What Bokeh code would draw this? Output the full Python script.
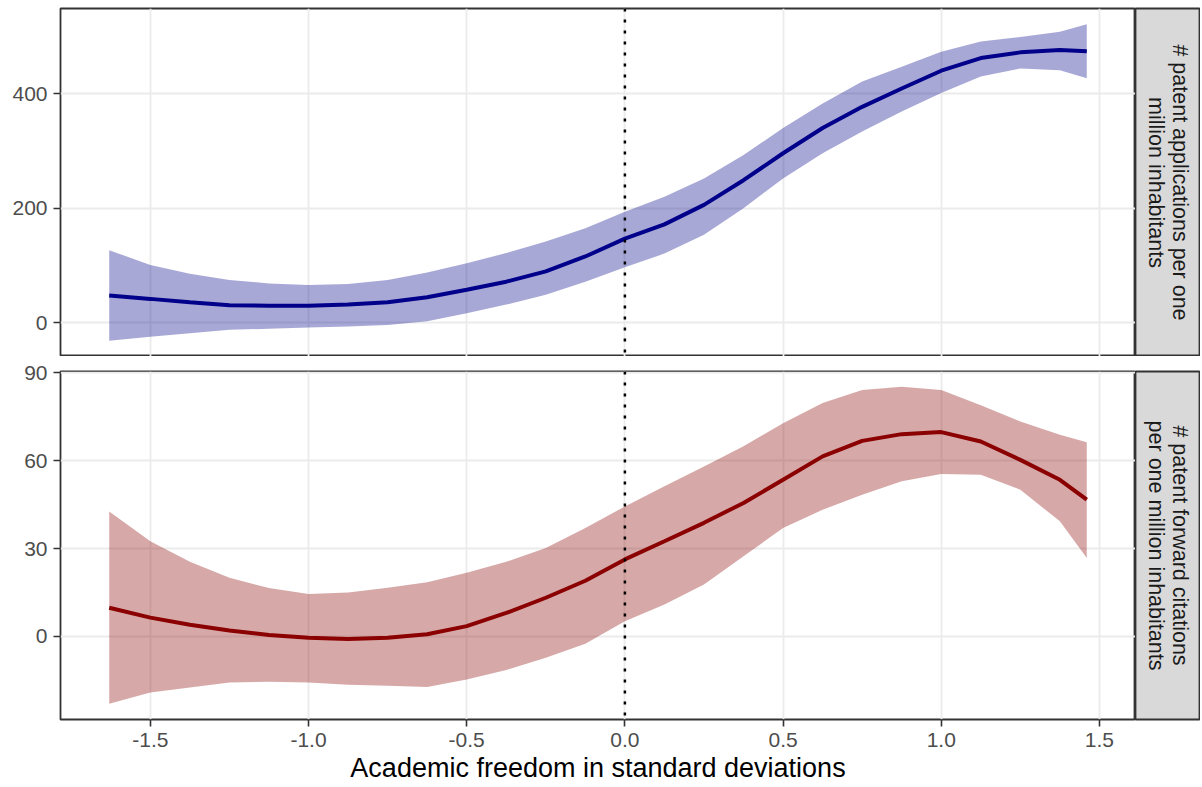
from bokeh.plotting import figure
from bokeh.models import Range1d, FixedTicker, Span, Label, Grid
from bokeh.layouts import gridplot
from bokeh.embed import file_html
from bokeh.resources import INLINE

# ---- data ----
x = [-1.63, -1.5, -1.375, -1.25, -1.125, -1.0, -0.875, -0.75, -0.625, -0.5, -0.375, -0.25, -0.125,
     0.0, 0.125, 0.25, 0.375, 0.5, 0.625, 0.75, 0.875, 1.0, 1.125, 1.25, 1.375, 1.46]

apps_fit = [48, 42, 36, 31, 30, 30, 32, 36, 45, 58, 72, 90, 116, 147, 172, 206, 249, 296, 340, 377, 409, 440, 462, 472, 476, 474]
apps_hi = [127, 101, 86, 75, 69, 66, 68, 75, 88, 104, 122, 142, 165, 194, 220, 252, 293, 340, 383, 421, 447, 473, 491, 499, 508, 521]
apps_lo = [-31, -24, -18, -12, -10, -8, -6, -3.5, 3, 17, 32, 49, 72, 97, 121, 154, 200, 252, 296, 334, 369, 401, 430, 444, 441, 427]

cit_fit = [9.8, 6.4, 4, 2, 0.5, -0.5, -0.9, -0.5, 0.7, 3.5, 8, 13.2, 19, 26.3, 32.5, 38.8, 45.6, 53.5, 61.5, 66.8, 69.1, 69.8, 66.6, 60.3, 53.5, 46.7]
cit_hi = [42.7, 32.5, 25.5, 20, 16.5, 14.5, 15, 16.6, 18.5, 21.7, 25.5, 30.2, 37, 44.4, 51.3, 58, 65, 72.8, 79.7, 84.2, 85.3, 84.2, 79, 73.4, 68.9, 66.3]
cit_lo = [-23, -19.2, -17.5, -15.8, -15.5, -15.8, -16.5, -16.9, -17.3, -14.7, -11.5, -7.3, -2.5, 5.2, 10.9, 17.7, 27.4, 37, 43.3, 48.4, 53, 55.5, 55.2, 50.1, 39.3, 26.8]

x_ticks = [-1.5, -1.0, -0.5, 0.0, 0.5, 1.0, 1.5]
x_tick_labels = ["-1.5", "-1.0", "-0.5", "0.0", "0.5", "1.0", "1.5"]
apps_ticks = [0, 200, 400]
cit_ticks = [0, 30, 60, 90]

strip_top = ["# patent applications per one", "million inhabitants"]
strip_bot = ["# patent forward citations", "per one million inhabitants"]
x_title = "Academic freedom in standard deviations"

FONT = "Liberation Sans"
BORDER = "#333333"
GRID = "#ebebeb"
FRAME_H = 348
TOP = 8
LEFT = 60
FRAME_W = 1075
STRIP_W = 65
GAP = 15
BOTTOM = 67


def style_panel(p, yticks):
    for r in list(p.center):
        if isinstance(r, Grid):
            r.visible = False
    p.add_layout(Grid(dimension=0, ticker=FixedTicker(ticks=x_ticks),
                      grid_line_color=GRID, grid_line_width=1.8), "center")
    p.add_layout(Grid(dimension=1, ticker=FixedTicker(ticks=yticks),
                      grid_line_color=GRID, grid_line_width=1.8), "center")
    p.outline_line_color = BORDER
    p.outline_line_width = 1.8
    p.background_fill_color = "white"
    p.border_fill_color = "white"
    ax = p.yaxis[0]
    ax.ticker = FixedTicker(ticks=yticks)
    ax.axis_line_color = None
    ax.major_tick_line_color = BORDER
    ax.major_tick_line_width = 1.6
    ax.major_tick_out = 7
    ax.major_tick_in = 0
    ax.minor_tick_line_color = None
    ax.major_label_text_font = FONT
    ax.major_label_text_font_size = "21px"
    ax.major_label_text_color = "#4d4d4d"
    ax.major_label_standoff = 6


def panel(height, yr, yticks, fit, lo, hi, color, has_x, top, bottom):
    p = figure(width=LEFT + FRAME_W, height=height,
               x_range=Range1d(-1.784, 1.614), y_range=Range1d(*yr),
               x_axis_location="below" if has_x else None,
               output_backend="svg", toolbar_location=None,
               min_border_left=LEFT, min_border_right=0, min_border_top=top,
               min_border_bottom=bottom)
    style_panel(p, yticks)
    p.varea(x=x, y1=lo, y2=hi, fill_color=color, fill_alpha=0.34)
    p.line(x=x, y=fit, line_color=color, line_width=4)
    p.add_layout(Span(location=0, dimension="height", line_color="black",
                      line_width=2.5, line_dash="3 8"))
    if has_x:
        ax = p.xaxis[0]
        ax.ticker = FixedTicker(ticks=x_ticks)
        ax.major_label_overrides = {t: l for t, l in zip(x_ticks, x_tick_labels)}
        ax.axis_line_color = None
        ax.major_tick_line_color = BORDER
        ax.major_tick_line_width = 1.6
        ax.major_tick_out = 7
        ax.major_tick_in = 0
        ax.minor_tick_line_color = None
        ax.major_label_text_font = FONT
        ax.major_label_text_font_size = "21px"
        ax.major_label_text_color = "#4d4d4d"
        ax.major_label_standoff = 6
        ax.axis_label = x_title
        ax.axis_label_text_font = FONT
        ax.axis_label_text_font_size = "27px"
        ax.axis_label_text_font_style = "normal"
        ax.axis_label_text_color = "black"
        ax.axis_label_standoff = 3
    return p


def strip(height, lines, top, bottom):
    s = figure(width=STRIP_W, height=height, x_range=Range1d(0, 1), y_range=Range1d(0, 1),
               x_axis_location=None, y_axis_location=None,
               output_backend="svg", toolbar_location=None,
               min_border_left=0, min_border_right=0, min_border_top=top,
               min_border_bottom=bottom)
    for r in list(s.center):
        if isinstance(r, Grid):
            r.visible = False
    s.background_fill_color = "#d9d9d9"
    s.border_fill_color = "white"
    s.outline_line_color = BORDER
    s.outline_line_width = 1.8
    for xi, txt in zip([0.68, 0.32], lines):
        s.add_layout(Label(x=xi, y=0.5, text=txt, angle=-1.5707963, text_align="center",
                           text_baseline="middle", text_font=FONT, text_font_size="21.5px",
                           text_color="#1a1a1a"))
    return s


p1 = panel(TOP + FRAME_H, (-58.5, 548.5), apps_ticks, apps_fit, apps_lo, apps_hi,
           "#00008b", False, TOP, 0)
p2 = panel(GAP + FRAME_H + BOTTOM, (-28.4, 90.5), cit_ticks, cit_fit, cit_lo, cit_hi,
           "#8b0000", True, GAP, BOTTOM)
s1 = strip(TOP + FRAME_H, strip_top, TOP, 0)
s2 = strip(GAP + FRAME_H + BOTTOM, strip_bot, GAP, BOTTOM)

layout = gridplot([[p1, s1], [p2, s2]], toolbar_location=None)

open("out.html", "w").write(file_html(layout, INLINE))
